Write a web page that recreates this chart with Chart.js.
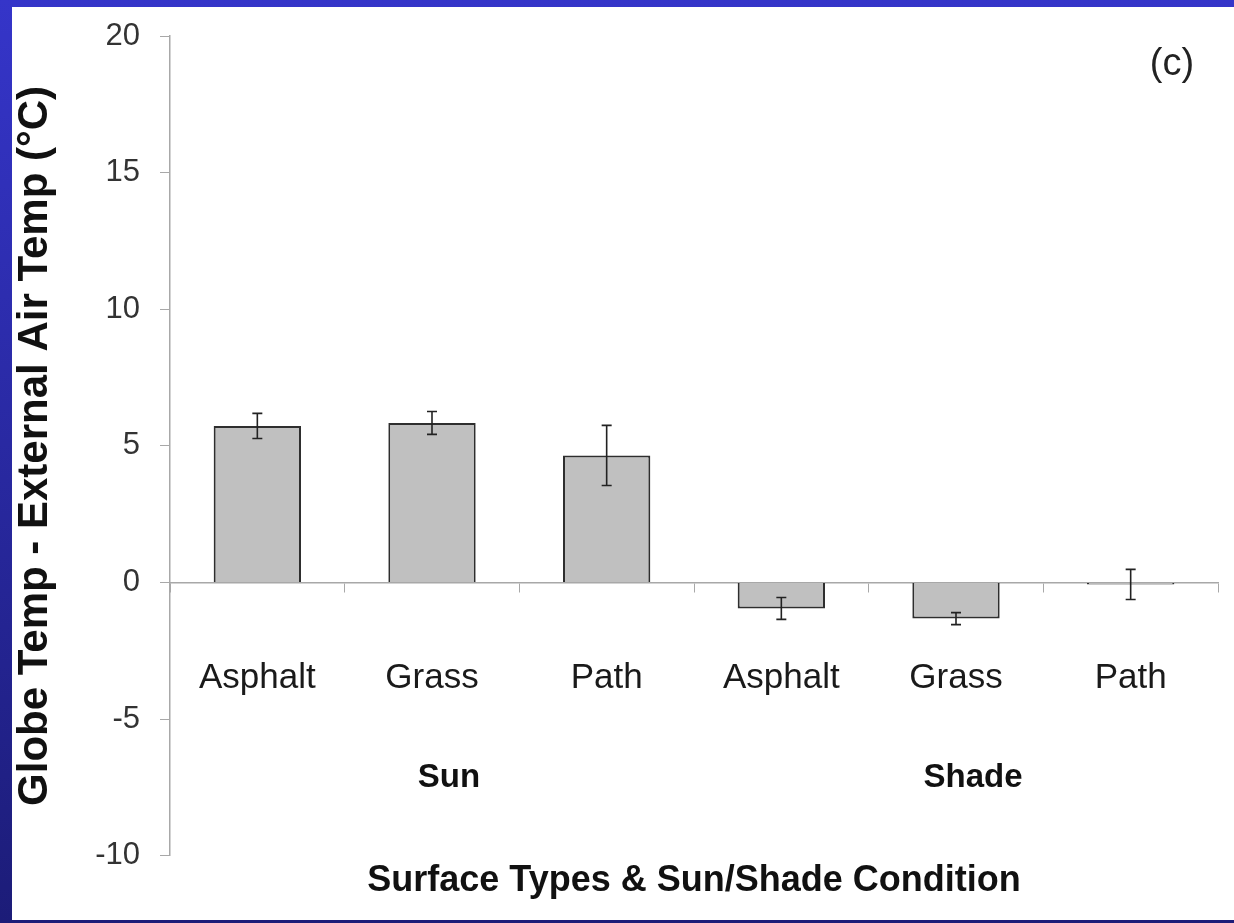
<!DOCTYPE html>
<html>
<head>
<meta charset="utf-8">
<title>Globe Temp - External Air Temp</title>
<script src="https://cdn.jsdelivr.net/npm/chart.js@4.4.1/dist/chart.umd.min.js"></script>
<style>
  html, body {
    margin: 0;
    padding: 0;
    width: 1234px;
    height: 923px;
    overflow: hidden;
    background: linear-gradient(to bottom, #3535c9, #1c1c78);
  }
  #panel {
    position: absolute;
    left: 12px;
    top: 7px;
    width: 1222px;
    height: 913px;
    background: #ffffff;
  }
</style>
</head>
<body>
<div id="panel">
  <canvas id="tempChart" width="1222" height="913"></canvas>
</div>
<script>
// du lieu ==========================================================
const surfaces = ["Asphalt", "Grass", "Path", "Asphalt", "Grass", "Path"];
const conditions = ["Sun", "Shade"];
const tempDiff = [5.73, 5.84, 4.65, -0.95, -1.32, -0.07];
const tempErr = [0.46, 0.42, 1.1, 0.4, 0.22, 0.55];
const yTicks = [20, 15, 10, 5, 0, -5, -10];

const fontName = "'Liberation Sans', Arial, sans-serif";

// thanh sai so ve tren moi cot
const errorBars = {
  id: "errorBars",
  afterDatasetsDraw(chart) {
    const ctx = chart.ctx;
    const yScale = chart.scales.y;
    const meta = chart.getDatasetMeta(0);
    ctx.save();
    ctx.strokeStyle = "#222222";
    ctx.lineWidth = 1.6;
    meta.data.forEach((bar, i) => {
      const top = yScale.getPixelForValue(tempDiff[i] + tempErr[i]);
      const bottom = yScale.getPixelForValue(tempDiff[i] - tempErr[i]);
      ctx.beginPath();
      ctx.moveTo(bar.x, top);
      ctx.lineTo(bar.x, bottom);
      ctx.moveTo(bar.x - 5, top);
      ctx.lineTo(bar.x + 5, top);
      ctx.moveTo(bar.x - 5, bottom);
      ctx.lineTo(bar.x + 5, bottom);
      ctx.stroke();
    });
    ctx.restore();
  },
};

// nhan (c) o goc tren ben phai
const panelLabel = {
  id: "panelLabel",
  afterDraw(chart) {
    const ctx = chart.ctx;
    const area = chart.chartArea;
    ctx.save();
    ctx.font = "38px " + fontName;
    ctx.fillStyle = "#222222";
    ctx.textAlign = "center";
    ctx.textBaseline = "middle";
    ctx.fillText("(c)", area.right - 46, area.top + 29);
    ctx.restore();
  },
};

const tempChart = new Chart(document.getElementById("tempChart"), {
  type: "bar",
  data: {
    labels: surfaces,
    datasets: [
      {
        data: tempDiff,
        backgroundColor: "#c0c0c0",
        borderColor: "#2e2e2e",
        borderWidth: 2,
        barPercentage: 0.5,
        categoryPercentage: 1.0,
      },
    ],
  },
  options: {
    responsive: false,
    animation: false,
    layout: {
      padding: { left: 0, right: 9, top: 29, bottom: 13 },
    },
    plugins: {
      legend: { display: false },
      tooltip: { enabled: false },
      title: {
        display: true,
        position: "bottom",
        fullSize: false,
        text: "Surface Types & Sun/Shade Condition",
        color: "#111111",
        font: { family: fontName, size: 36, weight: "bold", lineHeight: 1.2 },
        padding: { top: 4, bottom: 4 },
      },
    },
    scales: {
      x: {
        position: { y: 0 },
        offset: true,
        grid: {
          offset: true,
          drawOnChartArea: false,
          tickLength: 9,
          color: "#a8a8a8",
        },
        border: { color: "#a8a8a8", width: 1.5 },
        ticks: {
          padding: 66,
          color: "#1a1a1a",
          font: { family: fontName, size: 35 },
        },
      },
      x2: {
        type: "category",
        labels: conditions,
        position: { y: 0 },
        offset: true,
        grid: { display: false },
        border: { display: false },
        ticks: {
          padding: 168,
          labelOffset: 17,
          color: "#111111",
          font: { family: fontName, size: 33, weight: "bold" },
        },
      },
      y: {
        min: -10,
        max: 20,
        afterFit(scale) {
          scale.width = 158;
          scale.paddingTop = 10;
          scale.paddingBottom = 10;
        },
        afterBuildTicks(scale) {
          scale.ticks = yTicks.map((v) => ({ value: v }));
        },
        grid: {
          drawOnChartArea: false,
          tickLength: 10,
          color: "#a8a8a8",
        },
        border: { color: "#a8a8a8", width: 1.5 },
        ticks: {
          padding: 20,
          color: "#333333",
          font: { family: fontName, size: 31 },
        },
        title: {
          display: true,
          text: "Globe Temp - External Air Temp (°C)",
          color: "#111111",
          font: { family: fontName, size: 42, weight: "bold", lineHeight: 1.1 },
          padding: { top: 0, bottom: 0 },
        },
      },
    },
  },
  plugins: [errorBars, panelLabel],
});
</script>
</body>
</html>
